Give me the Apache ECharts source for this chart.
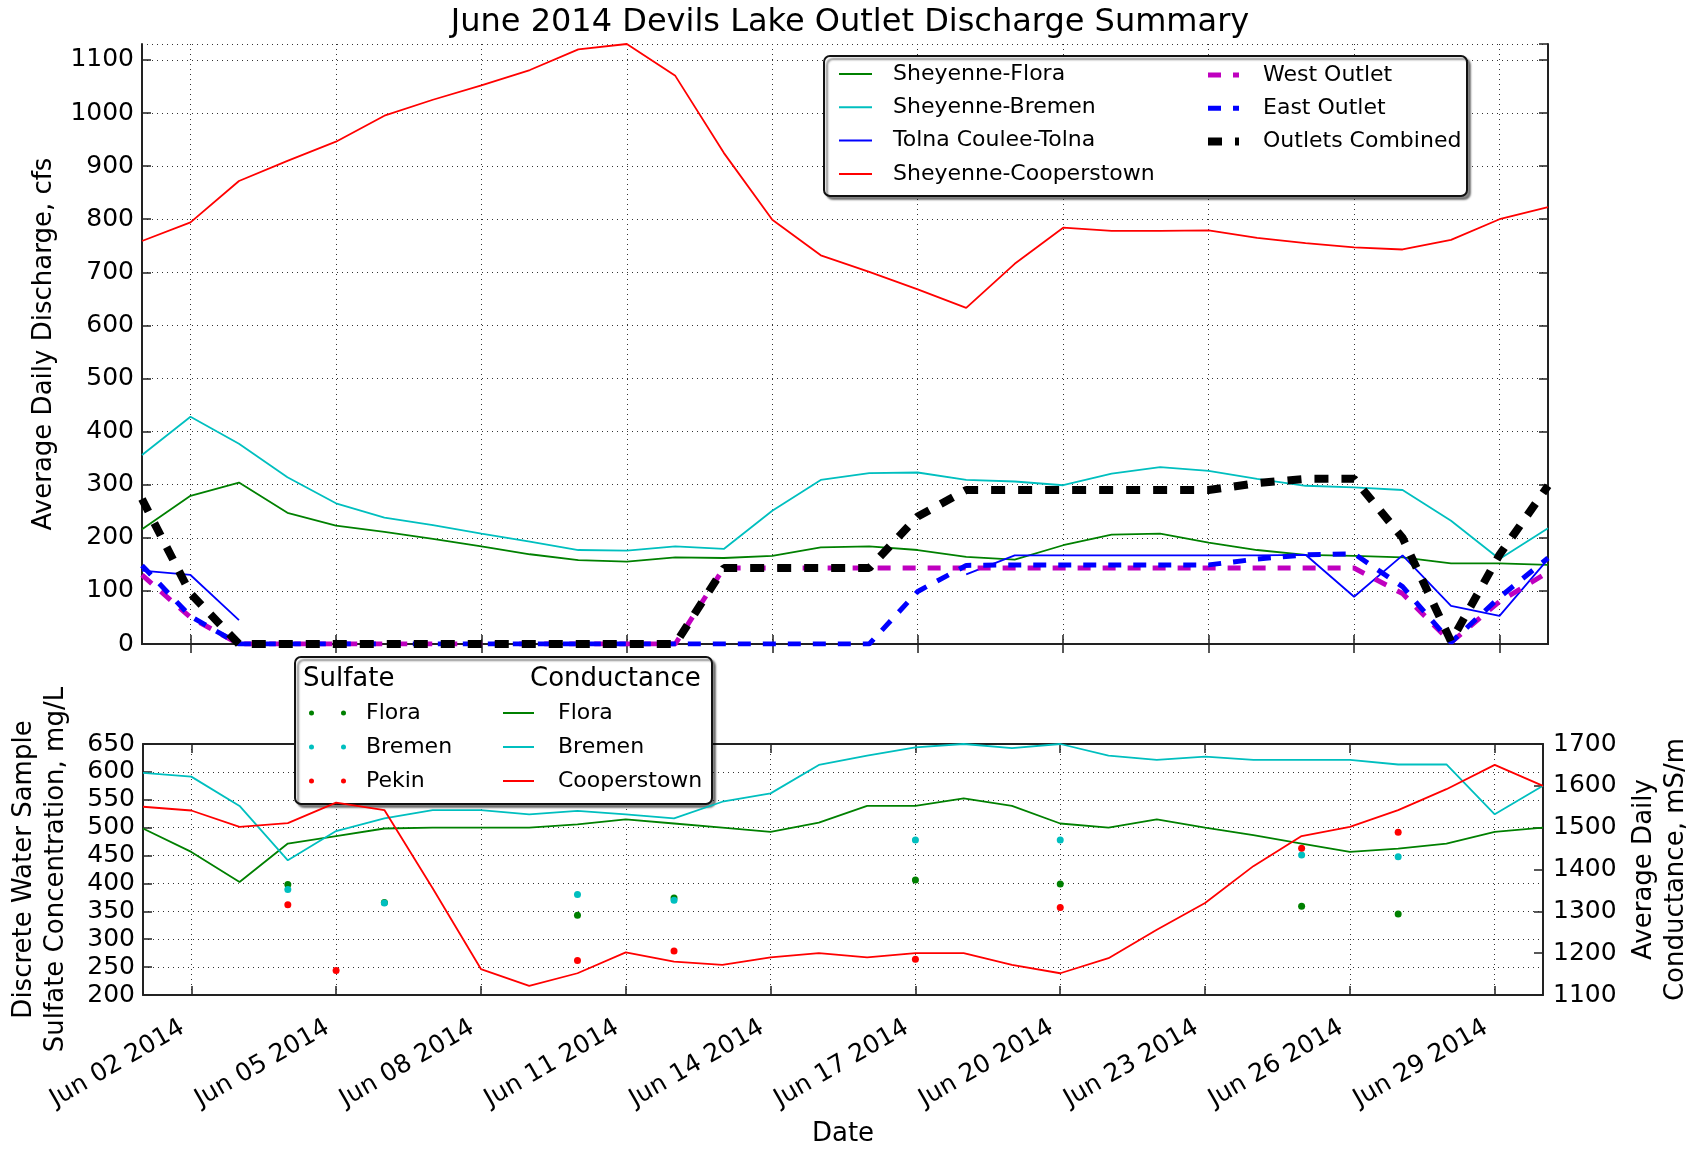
<!DOCTYPE html>
<html>
<head>
<meta charset="utf-8">
<script src="https://cdn.jsdelivr.net/npm/echarts@6/dist/echarts.min.js"></script>
<style>
  html, body { margin: 0; padding: 0; background: #fff; }
  #chart { width: 1700px; height: 1149px; }
</style>
</head>
<body>
<div id="chart"></div>
<script>
// days of June 2014
var dates = ['Jun 01 2014', 'Jun 02 2014', 'Jun 03 2014', 'Jun 04 2014', 'Jun 05 2014', 'Jun 06 2014',
  'Jun 07 2014', 'Jun 08 2014', 'Jun 09 2014', 'Jun 10 2014', 'Jun 11 2014', 'Jun 12 2014',
  'Jun 13 2014', 'Jun 14 2014', 'Jun 15 2014', 'Jun 16 2014', 'Jun 17 2014', 'Jun 18 2014',
  'Jun 19 2014', 'Jun 20 2014', 'Jun 21 2014', 'Jun 22 2014', 'Jun 23 2014', 'Jun 24 2014',
  'Jun 25 2014', 'Jun 26 2014', 'Jun 27 2014', 'Jun 28 2014', 'Jun 29 2014', 'Jun 30 2014']

// average daily discharge, cfs
var flora = [216, 279, 304, 247, 223, 211, 198, 184, 169, 158, 155, 163, 162, 166, 182,
  184, 177, 164, 159, 186, 206, 208, 191, 177, 168, 166, 163, 152, 152, 149]
var bremen = [356, 428, 377, 314, 265, 238, 224, 208, 193, 177, 176, 184, 179, 251, 309,
  322, 323, 309, 306, 299, 321, 333, 326, 311, 298, 295, 290, 232, 160, 218]
var tolna = [138, 130, 45, null, null, null, null, null, null, null, null, null, null, null, null,
  null, null, 131, 167, 167, 167, 167, 167, 167, 168, 89, 167, 72, 53, 160]
var cooperstown = [759, 794, 872, 910, 946, 995, 1025, 1052, 1081, 1120, 1130, 1070, 925, 799, 732,
  701, 668, 633, 716, 784, 778, 778, 779, 765, 755, 747, 743, 761, 800, 823]
var westOutlet = [130, 50, 0, 0, 0, 0, 0, 0, 0, 0, 0, 0, 143, 143, 143,
  143, 143, 143, 143, 143, 143, 143, 143, 143, 143, 143, 95, 3, 80, 135]
var eastOutlet = [148, 52, 0, 0, 0, 0, 0, 0, 0, 0, 0, 0, 0, 0, 0,
  0, 99, 148, 149, 149, 149, 149, 149, 160, 168, 170, 108, 3, 88, 162]
var outletsCombined = [273, 95, 0, 0, 0, 0, 0, 0, 0, 0, 0, 0, 143, 143, 143,
  143, 240, 290, 290, 290, 290, 290, 290, 303, 311, 311, 200, 5, 168, 298]

// discrete sulfate samples, mg/L  [day index, value]
var sulfFlora = [[3, 398], [5, 366], [9, 343], [11, 374], [16, 406], [19, 399], [24, 359], [26, 345]]
var sulfBremen = [[3, 389], [5, 365], [9, 380], [11, 370], [16, 478], [19, 478], [24, 451], [26, 448]]
var sulfPekin = [[3, 362], [4, 244], [9, 262], [11, 279], [16, 264], [19, 357], [24, 463], [26, 492]]

// average daily conductance, mS/m
var condFlora = [1498, 1442, 1370, 1462, 1480, 1498, 1500, 1500, 1500, 1508, 1520, 1510, 1500, 1490, 1512,
  1552, 1552, 1570, 1552, 1510, 1500, 1520, 1500, 1482, 1462, 1442, 1450, 1462, 1490, 1500]
var condBremen = [1631, 1622, 1552, 1422, 1492, 1522, 1542, 1542, 1532, 1540, 1532, 1522, 1562, 1582, 1650,
  1672, 1692, 1700, 1690, 1700, 1672, 1662, 1670, 1662, 1662, 1662, 1651, 1651, 1532, 1600]
var condCooperstown = [1550, 1541, 1502, 1511, 1560, 1542, 1355, 1162, 1122, 1152, 1202, 1180, 1172, 1190, 1200,
  1190, 1200, 1200, 1172, 1152, 1188, 1256, 1320, 1408, 1480, 1502, 1542, 1592, 1650, 1600]

var G = '#008000', C = '#00bfbf', B = '#0000ff', R = '#ff0000', M = '#bf00bf', K = '#000000'
var FONT = 'DejaVu Sans'
var every3 = function (i) { return i % 3 === 1 }
var plain = function (v) { return String(v) }
var dotted = { color: '#333', width: 1, type: [1, 4] }
var frame = { show: true, lineStyle: { color: '#222', width: 2 } }
var tick = { show: true, inside: true, length: 9, lineStyle: { color: '#222', width: 1.5 } }
var twoDots = 'path://M0,2.5a2.5,2.5 0 1,0 5,0a2.5,2.5 0 1,0 -5,0zM32,2.5a2.5,2.5 0 1,0 5,0a2.5,2.5 0 1,0 -5,0z'
var westDash = [13, 12], combDash = [14, 13]

var myChart = echarts.init(document.getElementById('chart'))

function line (name, data, color, width, dash, x, y) {
  return {
    name: name, type: 'line', data: data, xAxisIndex: x, yAxisIndex: y,
    symbol: 'none', connectNulls: false,
    lineStyle: { color: color, width: width, type: dash || 'solid' },
    itemStyle: { color: color }
  }
}
function dots (name, data, color) {
  return {
    name: name, type: 'scatter', data: data, xAxisIndex: 2, yAxisIndex: 2,
    symbol: 'circle', symbolSize: 7, itemStyle: { color: color, opacity: 1 }
  }
}

var option = {
  animation: false,
  textStyle: { fontFamily: FONT, color: '#000' },
  title: {
    text: 'June 2014 Devils Lake Outlet Discharge Summary',
    left: 'center', top: 2,
    textStyle: { fontFamily: FONT, fontSize: 32, fontWeight: 'normal', color: '#000' }
  },
  grid: [
    { left: 142, right: 152, top: 44, height: 600 },
    { left: 142, right: 152, top: 744, height: 251 }
  ],
  xAxis: [
    {
      gridIndex: 0, type: 'category', data: dates, boundaryGap: false, position: 'bottom',
      axisLine: frame, axisTick: Object.assign({ interval: every3 }, tick),
      axisLabel: { show: false },
      splitLine: { show: true, interval: every3, lineStyle: dotted }
    },
    {
      gridIndex: 0, type: 'category', data: dates, boundaryGap: false, position: 'top',
      axisLine: frame, axisTick: Object.assign({ interval: every3 }, tick),
      axisLabel: { show: false }, splitLine: { show: false }
    },
    {
      gridIndex: 1, type: 'category', data: dates, boundaryGap: false, position: 'bottom',
      name: 'Date', nameLocation: 'middle', nameGap: 126,
      nameTextStyle: { fontFamily: FONT, fontSize: 26, color: '#000' },
      axisLine: frame, axisTick: Object.assign({ interval: every3 }, tick),
      axisLabel: { interval: every3, rotate: 30, margin: 26, padding: [0, 10, 0, 0], fontFamily: FONT, fontSize: 25, color: '#000' },
      splitLine: { show: true, interval: every3, lineStyle: dotted }
    },
    {
      gridIndex: 1, type: 'category', data: dates, boundaryGap: false, position: 'top',
      axisLine: frame, axisTick: Object.assign({ interval: every3 }, tick),
      axisLabel: { show: false }, splitLine: { show: false }
    }
  ],
  yAxis: [
    {
      gridIndex: 0, type: 'value', min: 0, max: 1130, interval: 100, position: 'left',
      name: 'Average Daily Discharge, cfs', nameLocation: 'middle', nameGap: 85, nameRotate: 90,
      nameTextStyle: { fontFamily: FONT, fontSize: 26, color: '#000' },
      axisLine: frame, axisTick: tick,
      axisLabel: { margin: 8, fontFamily: FONT, fontSize: 25, color: '#000', showMaxLabel: false, formatter: plain },
      splitLine: { show: true, lineStyle: dotted }
    },
    {
      gridIndex: 0, type: 'value', min: 0, max: 1130, interval: 100, position: 'right',
      axisLine: frame, axisTick: tick,
      axisLabel: { show: false }, splitLine: { show: false }
    },
    {
      gridIndex: 1, type: 'value', min: 200, max: 650, interval: 50, position: 'left',
      name: 'Discrete Water Sample\nSulfate Concentration, mg/L', nameLocation: 'middle', nameGap: 71, nameRotate: 90,
      nameTextStyle: { fontFamily: FONT, fontSize: 26, color: '#000', lineHeight: 32 },
      axisLine: frame, axisTick: tick,
      axisLabel: { margin: 8, fontFamily: FONT, fontSize: 25, color: '#000', formatter: plain },
      splitLine: { show: true, lineStyle: dotted }
    },
    {
      gridIndex: 1, type: 'value', min: 1100, max: 1700, interval: 100, position: 'right',
      name: 'Average Daily\nConductance, mS/m', nameLocation: 'middle', nameGap: 85, nameRotate: 90,
      nameTextStyle: { fontFamily: FONT, fontSize: 26, color: '#000', lineHeight: 32 },
      axisLine: frame, axisTick: tick,
      axisLabel: { margin: 10, fontFamily: FONT, fontSize: 25, color: '#000', formatter: plain },
      splitLine: { show: false }
    }
  ],
  legend: [
    {
      data: ['Sheyenne-Flora', 'Sheyenne-Bremen', 'Tolna Coulee-Tolna', 'Sheyenne-Cooperstown'],
      orient: 'vertical', left: 838, top: 63, padding: 0, itemGap: 11.3,
      itemWidth: 33, itemHeight: 14, selectedMode: false,
      itemStyle: { opacity: 0 }, lineStyle: { width: 2 },
      textStyle: { fontFamily: FONT, fontSize: 22, lineHeight: 22, color: '#000', padding: [0, 0, 0, 16] }
    },
    {
      data: [
        { name: 'West Outlet', lineStyle: { width: 5, type: westDash } },
        { name: 'East Outlet', lineStyle: { width: 5, type: westDash } },
        { name: 'Outlets Combined', lineStyle: { width: 8, type: combDash } }
      ],
      orient: 'vertical', left: 1204, top: 64, padding: 0, itemGap: 11.3,
      itemWidth: 31, itemHeight: 14, selectedMode: false,
      itemStyle: { opacity: 0 },
      textStyle: { fontFamily: FONT, fontSize: 22, lineHeight: 22, color: '#000', padding: [0, 0, 0, 19] }
    },
    {
      data: ['Sulfate Flora', 'Sulfate Bremen', 'Sulfate Pekin'],
      formatter: function (n) { return n.replace('Sulfate ', '') },
      orient: 'vertical', left: 309, top: 702, padding: 0, itemGap: 12,
      itemWidth: 37, itemHeight: 5, icon: twoDots, selectedMode: false,
      textStyle: { fontFamily: FONT, fontSize: 22, lineHeight: 22, color: '#000', padding: [0, 0, 0, 15] }
    },
    {
      data: ['Conductance Flora', 'Conductance Bremen', 'Conductance Cooperstown'],
      formatter: function (n) { return n.replace('Conductance ', '') },
      orient: 'vertical', left: 502, top: 702, padding: 0, itemGap: 12,
      itemWidth: 31, itemHeight: 14, selectedMode: false,
      itemStyle: { opacity: 0 }, lineStyle: { width: 2 },
      textStyle: { fontFamily: FONT, fontSize: 22, lineHeight: 22, color: '#000', padding: [0, 0, 0, 19] }
    }
  ],
  graphic: [
    {
      type: 'rect', z: 3, shape: { x: 824, y: 56, width: 643, height: 140, r: 6 },
      style: { fill: '#fff', stroke: '#111', lineWidth: 2, shadowColor: 'rgba(0,0,0,0.45)', shadowOffsetX: 3, shadowOffsetY: 3, shadowBlur: 2 }
    },
    {
      type: 'rect', z: 3, shape: { x: 295, y: 657, width: 417, height: 147, r: 6 },
      style: { fill: '#fff', stroke: '#111', lineWidth: 2, shadowColor: 'rgba(0,0,0,0.45)', shadowOffsetX: 3, shadowOffsetY: 3, shadowBlur: 2 }
    },
    {
      type: 'text', z: 5, left: 303, top: 666,
      style: { text: 'Sulfate', font: '26px "DejaVu Sans"', fill: '#000' }
    },
    {
      type: 'text', z: 5, left: 530, top: 666,
      style: { text: 'Conductance', font: '26px "DejaVu Sans"', fill: '#000' }
    }
  ],
  series: [
    line('Sheyenne-Flora', flora, G, 1.8, null, 0, 0),
    line('Sheyenne-Bremen', bremen, C, 1.8, null, 0, 0),
    line('Tolna Coulee-Tolna', tolna, B, 1.8, null, 0, 0),
    line('Sheyenne-Cooperstown', cooperstown, R, 1.8, null, 0, 0),
    line('West Outlet', westOutlet, M, 5, westDash, 0, 0),
    line('East Outlet', eastOutlet, B, 5, westDash, 0, 0),
    line('Outlets Combined', outletsCombined, K, 8, combDash, 0, 0),
    line('Conductance Flora', condFlora, G, 1.8, null, 2, 3),
    line('Conductance Bremen', condBremen, C, 1.8, null, 2, 3),
    line('Conductance Cooperstown', condCooperstown, R, 1.8, null, 2, 3),
    dots('Sulfate Flora', sulfFlora, G),
    dots('Sulfate Bremen', sulfBremen, C),
    dots('Sulfate Pekin', sulfPekin, R)
  ]
}

myChart.setOption(option)
</script>
</body>
</html>
